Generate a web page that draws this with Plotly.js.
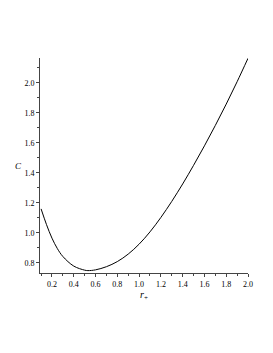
<!DOCTYPE html>
<html>
<head>
<meta charset="utf-8">
<script src="https://cdn.plot.ly/plotly-3.0.1.min.js"></script>
<style>html,body{margin:0;padding:0;background:#fff;}#chart{width:273px;height:353px;}</style>
</head>
<body>
<div id="chart"></div>
<script>
const rPlus = [0.10, 0.15, 0.20, 0.25, 0.30, 0.40, 0.50, 0.53, 0.60, 0.70, 0.80, 0.90, 1.00, 1.10, 1.20, 1.30, 1.40, 1.50, 1.60, 1.70, 1.80, 1.90, 2.00];
const heatC = [1.16, 1.055, 0.965, 0.895, 0.843, 0.779, 0.752, 0.749, 0.754, 0.775, 0.809, 0.859, 0.925, 1.007, 1.103, 1.21, 1.326, 1.45, 1.58, 1.716, 1.858, 2.007, 2.163];
const xTicks = [0.2, 0.4, 0.6, 0.8, 1.0, 1.2, 1.4, 1.6, 1.8, 2.0];
const yTicks = [0.8, 1.0, 1.2, 1.4, 1.6, 1.8, 2.0];

const tickFont = {family: 'Liberation Serif, Times New Roman, serif', size: 8, color: '#000'};
const axisCommon = {
  showline: true, linecolor: '#444', linewidth: 1,
  showgrid: false, zeroline: false,
  ticks: 'outside', ticklen: 3, tickcolor: '#444', tickwidth: 1,
  tickfont: tickFont,
  minor: {ticks: 'outside', ticklen: 2, tickcolor: '#444', dtick: 0.1, showgrid: false}
};

Plotly.newPlot('chart', [{
  x: rPlus, y: heatC, type: 'scatter', mode: 'lines',
  line: {color: '#000', width: 1, shape: 'spline', smoothing: 1}
}], {
  width: 273, height: 353,
  margin: {l: 40, r: 25, t: 58, b: 80},
  paper_bgcolor: '#fff', plot_bgcolor: '#fff',
  showlegend: false,
  xaxis: Object.assign({}, axisCommon, {
    range: [0.09, 2.0],
    tickvals: xTicks, ticktext: xTicks.map(v => v.toFixed(1)),
    title: {text: '<i>r</i><sub>+</sub>', font: {family: 'Liberation Serif, serif', size: 10, color: '#000'}, standoff: 2}
  }),
  yaxis: Object.assign({}, axisCommon, {
    range: [0.733, 2.165],
    tickvals: yTicks, ticktext: yTicks.map(v => v.toFixed(1))
  }),
  annotations: [{
    text: '<i>C</i>', xref: 'paper', yref: 'paper', x: -0.105, y: 0.5,
    xanchor: 'center', yanchor: 'middle', showarrow: false,
    font: {family: 'Liberation Serif, serif', size: 9, color: '#000'}
  }]
}, {displayModeBar: false, staticPlot: true});
</script>
</body>
</html>
